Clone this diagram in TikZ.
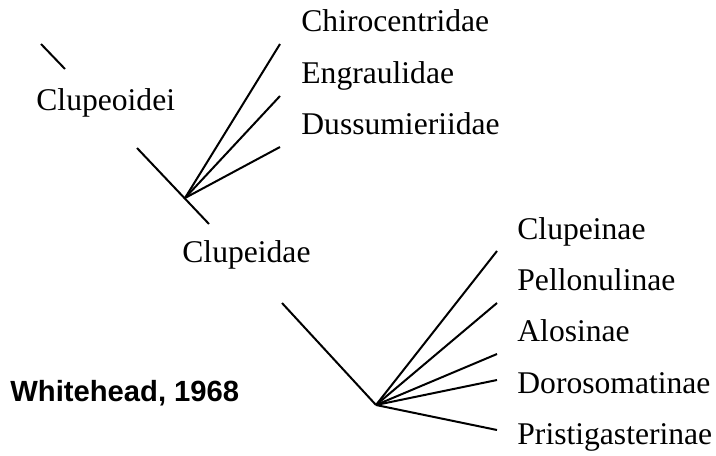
\documentclass[tikz,border=0pt]{standalone}
\usepackage{fontspec}
\setmainfont{Liberation Serif}
\newfontfamily\creditfont{Liberation Sans}
\usepackage{tikz}
\usetikzlibrary{positioning}
\tikzstyle{taxon} = [inner sep=0pt, anchor=base west, font=\fontsize{15.8}{19}\selectfont]
\tikzstyle{credit} = [inner sep=0pt, anchor=base west, font=\creditfont\bfseries\fontsize{14.6}{17}\selectfont]
\tikzstyle{branch} = [line width=1pt]

\begin{document}
\begin{tikzpicture}[x=0.5pt, y=-0.5pt]
    \useasboundingbox (0,0) rectangle (716,455);
    % labels
    \node (Clupeoidei) [taxon] at (36,110) {Clupeoidei};
    \node (Chirocentridae) [taxon] at (301,32) {Chirocentridae};
    \node (Engraulidae) [taxon, below=25.5pt of Chirocentridae.base west, anchor=base west] {Engraulidae};
    \node (Dussumieriidae) [taxon, below=25.5pt of Engraulidae.base west, anchor=base west] {Dussumieriidae};
    \node (Clupeidae) [taxon] at (182,262) {Clupeidae};
    \node (Clupeinae) [taxon] at (517,239) {Clupeinae};
    \node (Pellonulinae) [taxon, below=25.8pt of Clupeinae.base west, anchor=base west] {Pellonulinae};
    \node (Alosinae) [taxon, below=25.2pt of Pellonulinae.base west, anchor=base west] {Alosinae};
    \node (Dorosomatinae) [taxon, below=26pt of Alosinae.base west, anchor=base west] {Dorosomatinae};
    \node (Pristigasterinae) [taxon, below=25.5pt of Dorosomatinae.base west, anchor=base west] {Pristigasterinae};
    \node (Whitehead) [credit] at (10,401) {Whitehead, 1968};
    % branch points and ends
    \coordinate (rootTop) at (41,44);
    \coordinate (rootEnd) at (65,69);
    \coordinate (clupeoidTop) at (137,148);
    \coordinate (clupeoidEnd) at (209,224);
    \coordinate (clupeoidHub) at (185,198);
    \coordinate (chiroEnd) at (280,44);
    \coordinate (engrEnd) at (280,96);
    \coordinate (dussEnd) at (280,147);
    \coordinate (clupeidTop) at (282,303);
    \coordinate (clupeidHub) at (376,405);
    \coordinate (clupEnd) at (497,251);
    \coordinate (pellEnd) at (497,303);
    \coordinate (alosEnd) at (497,354);
    \coordinate (doroEnd) at (497,380);
    \coordinate (pristEnd) at (497,430);
    % tree
    \draw [branch] (rootTop) -- (rootEnd);
    \draw [branch] (clupeoidTop) -- (clupeoidEnd);
    \draw [branch] (clupeoidHub) -- (chiroEnd);
    \draw [branch] (clupeoidHub) -- (engrEnd);
    \draw [branch] (clupeoidHub) -- (dussEnd);
    \draw [branch] (clupeidTop) -- (clupeidHub);
    \draw [branch] (clupeidHub) -- (clupEnd);
    \draw [branch] (clupeidHub) -- (pellEnd);
    \draw [branch] (clupeidHub) -- (alosEnd);
    \draw [branch] (clupeidHub) -- (doroEnd);
    \draw [branch] (clupeidHub) -- (pristEnd);
\end{tikzpicture}
\end{document}
